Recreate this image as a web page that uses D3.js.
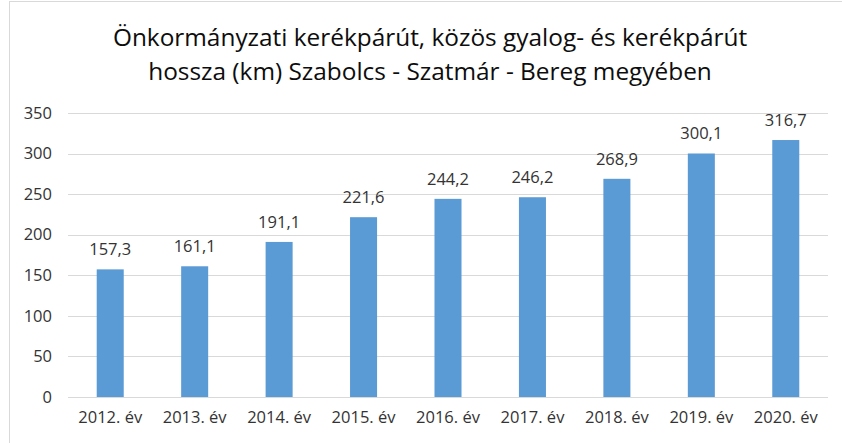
<!DOCTYPE html>
<html>
<head>
<meta charset="utf-8">
<script src="https://cdn.jsdelivr.net/npm/d3@7"></script>
<style>
  body { margin: 0; background: #fff; }
  svg { display: block; font-family: "Open Sans", sans-serif; }
</style>
</head>
<body>
<div id="chart"></div>
<script>
var titleLines = ["Önkormányzati kerékpárút, közös gyalog- és kerékpárút",
                  "hossza (km) Szabolcs - Szatmár - Bereg megyében"];
var years = ["2012. év", "2013. év", "2014. év", "2015. év", "2016. év",
             "2017. év", "2018. év", "2019. év", "2020. év"];
var lengths = [157.3, 161.1, 191.1, 221.6, 244.2, 246.2, 268.9, 300.1, 316.7];
var yTicks = [0, 50, 100, 150, 200, 250, 300, 350];

var width = 842, height = 443;
var margin = { top: 113, right: 14, bottom: 46, left: 68 };

var svg = d3.select("#chart")
  .append("svg")
  .attr("width", width)
  .attr("height", height);

// chart area frame
svg.append("rect")
  .attr("x", 9.5)
  .attr("y", 1.5)
  .attr("width", width + 20)
  .attr("height", height + 20)
  .attr("fill", "#fff")
  .attr("stroke", "#d9d9d9");

svg.append("g")
  .selectAll("text")
  .data(titleLines)
  .enter()
  .append("text")
  .attr("x", 430)
  .attr("y", function(d, i) { return 46 + i * 34; })
  .attr("text-anchor", "middle")
  .attr("font-size", "24.4px")
  .attr("fill", "#0d0d0d")
  .text(function(d) { return d; });

var x = d3.scaleBand()
  .domain(years)
  .range([margin.left, width - margin.right])
  .paddingInner(0.68)
  .paddingOuter(0.34);

var y = d3.scaleLinear()
  .domain([0, 350])
  .range([height - margin.bottom, margin.top]);

// gridlines
svg.append("g")
  .selectAll("line")
  .data(yTicks)
  .enter()
  .append("line")
  .attr("x1", margin.left)
  .attr("x2", width - margin.right)
  .attr("y1", function(d) { return Math.round(y(d)) + 0.5; })
  .attr("y2", function(d) { return Math.round(y(d)) + 0.5; })
  .attr("stroke", "#d9d9d9")
  .attr("stroke-width", 1);

var yAxis = svg.append("g")
  .attr("transform", "translate(" + margin.left + ",0)")
  .call(d3.axisLeft(y).tickValues(yTicks).tickSize(0).tickPadding(16));
yAxis.select(".domain").remove();
yAxis.selectAll("text")
  .attr("font-family", "Open Sans")
  .attr("font-size", "16.5px")
  .attr("fill", "#333");

svg.append("g")
  .selectAll("rect")
  .data(lengths)
  .enter()
  .append("rect")
  .attr("x", function(d, i) { return x(years[i]); })
  .attr("y", function(d) { return y(d); })
  .attr("width", x.bandwidth())
  .attr("height", function(d) { return y(0) - y(d); })
  .attr("fill", "#5b9bd5");

svg.append("g")
  .selectAll("text")
  .data(lengths)
  .enter()
  .append("text")
  .attr("x", function(d, i) { return x(years[i]) + x.bandwidth() / 2; })
  .attr("y", function(d) { return y(d) - 14; })
  .attr("text-anchor", "middle")
  .attr("font-size", "16.5px")
  .attr("fill", "#333")
  .text(function(d) { return d.toFixed(1).replace(".", ","); });

var xAxis = svg.append("g")
  .attr("transform", "translate(0," + y(0) + ")")
  .call(d3.axisBottom(x).tickSize(0).tickPadding(14));
xAxis.select(".domain").remove();
xAxis.selectAll("text")
  .attr("font-family", "Open Sans")
  .attr("font-size", "16.5px")
  .attr("fill", "#333");
</script>
</body>
</html>
